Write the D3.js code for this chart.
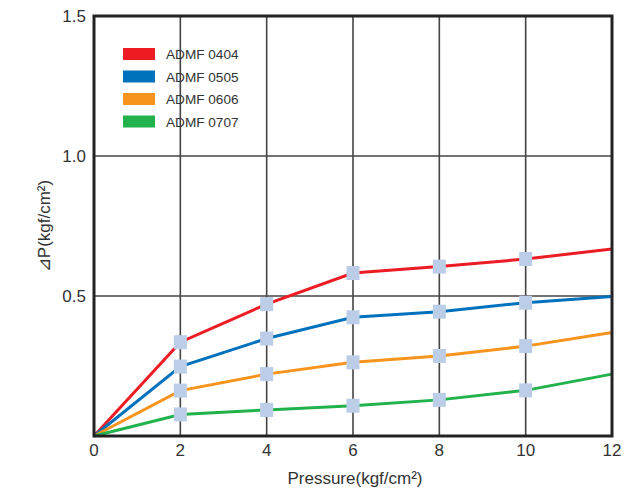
<!DOCTYPE html>
<html>
<head>
  <meta charset="utf-8">
  <style>
    body { margin: 0; background: #fff; }
    text { font-family: "Liberation Sans", Arial, sans-serif; fill: #333; }
    .grid line { stroke: #444; stroke-width: 1.6; }
    .tick-label { font-size: 17px; }
    .legend-label { font-size: 13.6px; }
  </style>
  <script src="https://d3js.org/d3.v7.min.js"></script>
</head>
<body>
  <div id="chart"></div>
  <script>
    // data
    var pressure = [0, 2, 4, 6, 8, 10, 12];
    var seriesNames = ["ADMF 0404", "ADMF 0505", "ADMF 0606", "ADMF 0707"];
    var adm0404 = [0, 0.335, 0.471, 0.582, 0.605, 0.632, 0.668];
    var adm0505 = [0, 0.248, 0.348, 0.424, 0.444, 0.476, 0.498];
    var adm0606 = [0, 0.162, 0.221, 0.263, 0.286, 0.321, 0.370];
    var adm0707 = [0, 0.077, 0.093, 0.108, 0.129, 0.163, 0.221];
    var colors = ["#ed1c24", "#0071bc", "#f7941d", "#22b24c"];
    var xTicks = [0, 2, 4, 6, 8, 10, 12];
    var yTicks = [0.5, 1.0, 1.5];

    var allSeries = [adm0404, adm0505, adm0606, adm0707];

    var width = 640, height = 490;
    var margin = { top: 16, right: 28, bottom: 54, left: 94 };
    var plotW = width - margin.left - margin.right;
    var plotH = height - margin.top - margin.bottom;

    var svg = d3.select("#chart").append("svg")
      .attr("width", width)
      .attr("height", height);

    var g = svg.append("g")
      .attr("transform", "translate(" + margin.left + "," + margin.top + ")");

    var x = d3.scaleLinear().domain([0, 12]).range([0, plotW]);
    var y = d3.scaleLinear().domain([0, 1.5]).range([plotH, 0]);

    // grid
    var grid = g.append("g").attr("class", "grid");
    grid.selectAll(".vl")
      .data(xTicks.filter(function (d) { return d > 0 && d < 12; }))
      .enter().append("line")
      .attr("x1", function (d) { return x(d); })
      .attr("x2", function (d) { return x(d); })
      .attr("y1", 0).attr("y2", plotH);
    grid.selectAll(".hl")
      .data(yTicks.filter(function (d) { return d < 1.5; }))
      .enter().append("line")
      .attr("x1", 0).attr("x2", plotW)
      .attr("y1", function (d) { return y(d); })
      .attr("y2", function (d) { return y(d); });

    // lines
    var line = d3.line()
      .x(function (d, i) { return x(pressure[i]); })
      .y(function (d) { return y(d); });

    g.selectAll(".series")
      .data(allSeries)
      .enter().append("path")
      .attr("d", line)
      .attr("fill", "none")
      .attr("stroke", function (d, i) { return colors[i]; })
      .attr("stroke-width", 3);

    // markers (only at 2..10)
    allSeries.forEach(function (s) {
      g.selectAll(null)
        .data(s.map(function (v, i) { return { x: pressure[i], v: v }; })
          .filter(function (d) { return d.x > 0 && d.x < 12; }))
        .enter().append("rect")
        .attr("x", function (d) { return x(d.x) - 6.5; })
        .attr("y", function (d) { return y(d.v) - 7; })
        .attr("width", 13)
        .attr("height", 14)
        .attr("fill", "#bccde8");
    });

    // frame
    g.append("rect")
      .attr("width", plotW).attr("height", plotH)
      .attr("fill", "none")
      .attr("stroke", "#222")
      .attr("stroke-width", 3);

    // tick labels
    g.selectAll(".xt")
      .data(xTicks)
      .enter().append("text")
      .attr("class", "tick-label")
      .attr("x", function (d) { return x(d); })
      .attr("y", plotH + 20)
      .attr("text-anchor", "middle")
      .text(function (d) { return d; });

    g.selectAll(".yt")
      .data(yTicks)
      .enter().append("text")
      .attr("class", "tick-label")
      .attr("x", -8)
      .attr("y", function (d) { return y(d) + 6; })
      .attr("text-anchor", "end")
      .text(function (d) { return d.toFixed(1); });

    // axis titles
    svg.append("text")
      .attr("x", margin.left + x(6) + 2)
      .attr("y", 484)
      .attr("text-anchor", "middle")
      .attr("font-size", "17px")
      .text("Pressure(kgf/cm²)");

    svg.append("text")
      .attr("transform", "translate(50," + (margin.top + y(0.75)) + ") rotate(-90)")
      .attr("text-anchor", "middle")
      .attr("font-size", "17px")
      .text("⊿P(kgf/cm²)");

    // legend
    var legend = g.append("g").attr("transform", "translate(29,32)");
    seriesNames.forEach(function (name, i) {
      var row = legend.append("g").attr("transform", "translate(0," + (i * 22.5) + ")");
      row.append("rect")
        .attr("width", 32).attr("height", 12)
        .attr("fill", colors[i]);
      row.append("text")
        .attr("class", "legend-label")
        .attr("x", 43).attr("y", 11)
        .text(name);
    });
  </script>
</body>
</html>
